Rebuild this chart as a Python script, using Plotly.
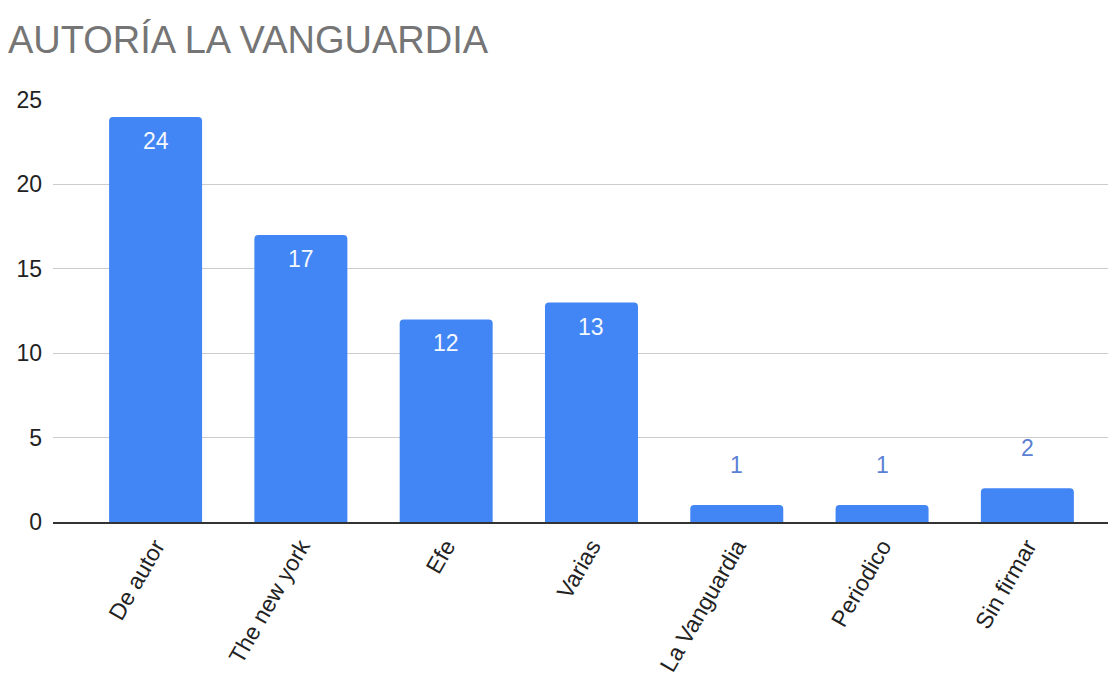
import plotly.graph_objects as go

categories = ["De autor", "The new york", "Efe", "Varias", "La Vanguardia", "Periodico", "Sin firmar"]
values = [24, 17, 12, 13, 1, 1, 2]
y_ticks = [0, 5, 10, 15, 20, 25]

BAR = "#4285F4"
FONT = "Arial, Liberation Sans, sans-serif"

fig = go.Figure()
fig.add_trace(go.Bar(
    x=categories, y=values,
    marker=dict(color=BAR, cornerradius=4, line=dict(width=0)),
    width=0.64, hoverinfo="x+y",
))

inside_threshold = 5
for c, v in zip(categories, values):
    inside = v >= inside_threshold
    fig.add_annotation(
        x=c, y=v, text=str(v), showarrow=False,
        yanchor="middle", xanchor="center",
        yshift=-24 if inside else 40,
        font=dict(family=FONT, size=23, color="#f4f8ff" if inside else "#5b7fd4"),
    )

fig.update_layout(
    width=1116, height=685,
    margin=dict(l=41, r=8, t=92, b=171),
    paper_bgcolor="white", plot_bgcolor="white",
    showlegend=False,
    title=dict(text="AUTORÍA LA VANGUARDIA", x=0, xanchor="left", y=0.954, yanchor="middle",
               font=dict(family=FONT, size=38, color="#757575")),
    font=dict(family=FONT, color="#222222"),
)
fig.update_xaxes(
    type="category", range=[-0.706, 6.61],
    tickangle=-60, tickfont=dict(size=23, color="#222222"),
    showgrid=False, showline=True, linecolor="#333333", linewidth=1.5,
    ticks="", zeroline=False,
)
fig.update_yaxes(
    range=[0, 25], tickvals=y_ticks, ticktext=[str(t) for t in y_ticks],
    tickfont=dict(size=23, color="#222222"),
    showgrid=True, gridcolor="#cccccc", gridwidth=1,
    zeroline=False, showline=False, ticks="", ticklabelstandoff=10,
)

fig.write_html("out.html")
